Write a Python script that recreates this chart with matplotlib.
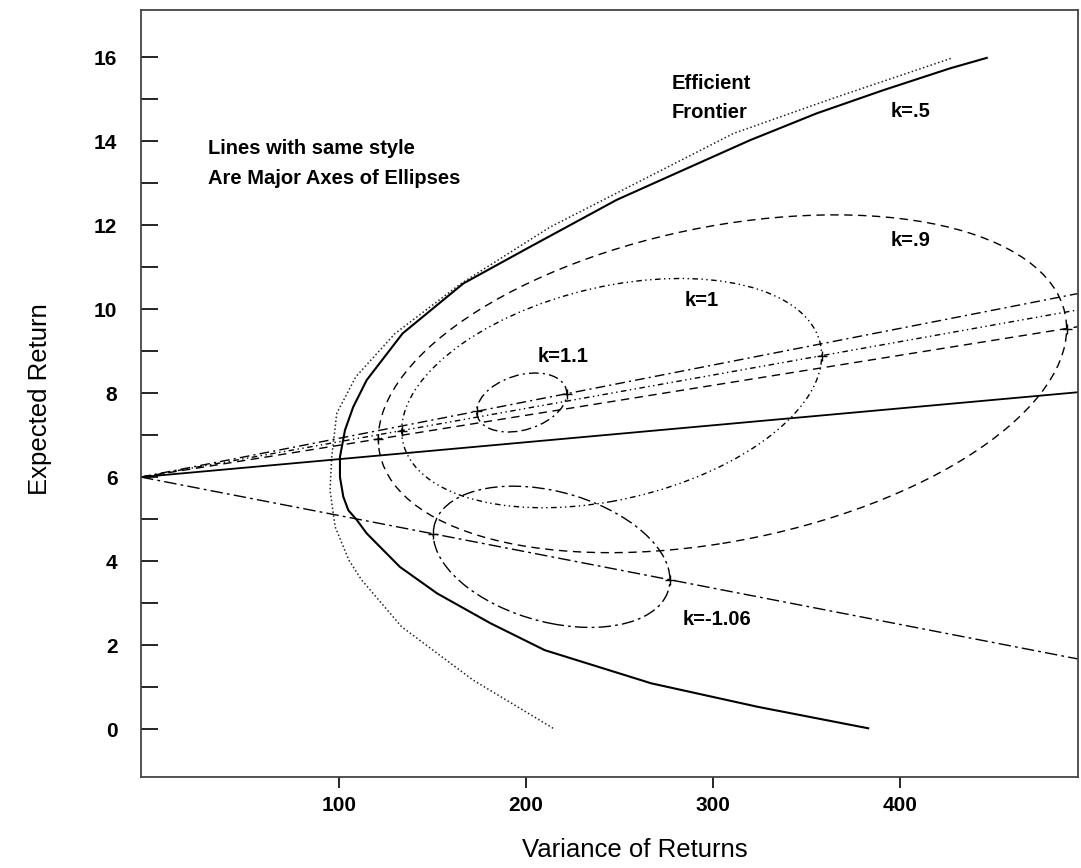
import numpy as np
import matplotlib.pyplot as plt
from matplotlib.patches import Ellipse

plt.rcParams['font.family'] = ['Liberation Sans', 'DejaVu Sans']

# values
# efficient frontier: expected return vs variance
front_ret = [0.02, 0.53, 1.09, 1.88, 2.52, 3.23, 3.86, 4.34, 4.66, 4.98, 5.21,
             5.53, 6.0, 6.48, 7.12, 7.67, 8.31, 9.42, 10.61, 11.48, 12.6, 13.31,
             14.02, 14.66, 15.21, 15.73, 15.98]
front_var = [383, 324, 267, 210, 181, 152.5, 132.6, 121.9, 114.8, 109.5, 105,
             102.3, 100.5, 100.5, 103.2, 107.6, 114.8, 134, 166.5, 202.1, 248.5, 284.1,
             319.8, 355.5, 391, 426.7, 446.4]

# k=.5 curve
k5_ret = [0.02, 1.17, 2.44, 3.55, 4.02, 4.82, 5.69, 6.48, 7.52, 8.39, 9.42,
          10.6, 11.95, 14.18, 15.02, 15.97]
k5_var = [214.5, 171.6, 133.4, 112.1, 105.3, 97.9, 95.2, 96.1, 98.8, 109, 130,
          165, 212.8, 310.9, 364.3, 427.4]

# straight lines out of the common point (return 6 at the left edge)
rf = 6.0
line_names = ['frontier', 'k=1.1', 'k=1', 'k=.9', 'k=-1.06']
line_end = [8.02, 10.37, 9.98, 9.58, 1.67]   # return at right edge

# ellipses: ends of major axis (variance) and vertical half size (return)
ell_names = ['k=.9', 'k=1', 'k=1.1', 'k=-1.06']
ell_left = [121.0, 133.5, 173.6, 150.4]
ell_right = [489.1, 358.1, 221.8, 277.0]
ell_half_h = [3.80, 2.58, 0.67, 1.59]

xmin, xmax = -5.9, 495.2
ymin, ymax = -1.14, 17.12

styles = {
    'frontier': (0, ()),
    'k=1.1': (0, (7, 3, 1.5, 3)),
    'k=1': (0, (4, 2.5, 1, 2.5, 1, 2.5)),
    'k=.9': (0, (6, 4)),
    'k=-1.06': (0, (9, 3, 2, 3)),
    'k=.5': (0, (1, 1.6)),
}

fig = plt.figure(figsize=(10.81, 8.68), dpi=100)
ax = fig.add_axes([141 / 1081, 91 / 868, 937 / 1081, 767 / 868])

ax.plot(front_var, front_ret, color='black', lw=1.5)
ax.plot(k5_var, k5_ret, color='#222222', lw=1.1, linestyle=styles['k=.5'])

slopes = {}
for name, end in zip(line_names, line_end):
    s = (end - rf) / (xmax - xmin)
    slopes[name] = s
    lw = 1.3 if name == 'frontier' else 1.0
    ax.plot([xmin, xmax], [rf, end], color='black', lw=lw, linestyle=styles[name])

for name, l, r, b in zip(ell_names, ell_left, ell_right, ell_half_h):
    s = slopes[name]
    cx = (l + r) / 2
    cy = rf + s * (cx - xmin)
    ang = np.degrees(np.arctan(s))
    e = Ellipse((cx, cy), width=(r - l) * np.sqrt(1 + s * s), height=2 * b,
                angle=ang, fill=False, edgecolor='black', lw=1.0,
                linestyle=styles[name])
    ax.add_patch(e)
    ax.plot([l, r], [rf + s * (l - xmin), rf + s * (r - xmin)], ls='none',
            marker='+', ms=7, mew=1.0, color='black')

tfont = dict(fontsize=14.5, fontweight='bold', va='center', ha='left')
ax.text(30, 13.83, 'Lines with same style', **tfont)
ax.text(30, 13.12, 'Are Major Axes of Ellipses', **tfont)
ax.text(278, 15.38, 'Efficient', **tfont)
ax.text(278, 14.69, 'Frontier', **tfont)
ax.text(395, 14.70, 'k=.5', **tfont)
ax.text(395, 11.64, 'k=.9', **tfont)
ax.text(285, 10.21, 'k=1', **tfont)
ax.text(206, 8.86, 'k=1.1', **tfont)
ax.text(284, 2.60, 'k=-1.06', **tfont)

ax.set_xlim(xmin, xmax)
ax.set_ylim(ymin, ymax)
ax.set_xticks([100, 200, 300, 400])
ax.set_yticks(np.arange(0, 17, 2))
ax.set_yticks(np.arange(1, 16, 2), minor=True)
ax.tick_params(axis='x', direction='out', length=8, width=1.2, pad=6,
               labelsize=15)
ax.tick_params(axis='y', which='both', direction='in', length=12, width=1.2,
               pad=17, labelsize=15)
for lab in ax.get_xticklabels() + ax.get_yticklabels():
    lab.set_fontweight('bold')
for sp in ax.spines.values():
    sp.set_linewidth(1.3)
    sp.set_color('#444444')

ax.set_xlabel('Variance of Returns', fontsize=18.5, va='center')
ax.set_ylabel('Expected Return', fontsize=18.5, va='center')
ax.xaxis.set_label_coords(0.527, -0.095)
ax.yaxis.set_label_coords(-0.108, 0.493)

fig.savefig('out.png', dpi=100)
